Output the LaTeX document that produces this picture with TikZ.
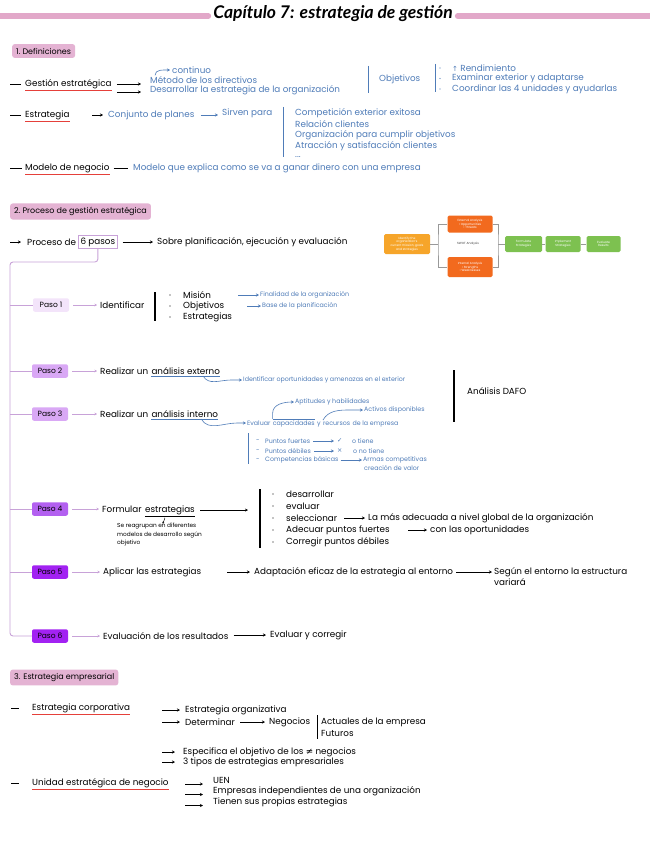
\documentclass[tikz,border=0pt]{standalone}
\usepackage{fontspec}
\setmainfont{Poppins}
\newfontfamily\titlefont{Lato}
\newfontfamily\symfont{DejaVu Sans}
\usetikzlibrary{arrows.meta,calc}
\newcommand\fsz[2]{\fontsize{#1}{#2}\selectfont}
\definecolor{tblue}{HTML}{4F7CB8}
\definecolor{hpink}{HTML}{E4B3D3}
\definecolor{barpink}{HTML}{E2A8C9}
\definecolor{treec}{HTML}{C8A2D8}
\definecolor{ured}{HTML}{E5403A}
\definecolor{pa}{HTML}{F3E4FA}
\definecolor{pb}{HTML}{D9A8F5}
\definecolor{pc}{HTML}{B360F0}
\definecolor{pd}{HTML}{A222F2}
\definecolor{oy}{HTML}{F6A52A}
\definecolor{orr}{HTML}{F26A1E}
\definecolor{grn}{HTML}{7DC150}
\begin{document}
\begin{tikzpicture}[x=1pt,y=-1pt,
  txt/.style={anchor=west,inner sep=0pt,font=\fsz{8.8}{10}},
  btxt/.style={txt,text=tblue},
  sbtxt/.style={anchor=west,inner sep=0pt,font=\fsz{6.3}{7.3},text=tblue},
  stxt/.style={anchor=west,inner sep=0pt,font=\fsz{5.8}{8.5},align=left},
  hdr/.style={anchor=west,fill=hpink,rounded corners=2.5pt,inner xsep=4pt,inner ysep=3.8pt,font=\fsz{8}{9}},
  arr/.style={-{Stealth[length=3pt,width=3pt]},line width=0.7pt},
  barr/.style={arr,draw=tblue,line width=0.6pt},
  parr/.style={-{Stealth[length=2.5pt,width=2.5pt]},draw=treec,line width=0.7pt},
  plain/.style={line width=0.7pt},
  bline/.style={draw=tblue,line width=0.8pt},
  kbar/.style={draw=black,line width=1.1pt},
  ul/.style={draw=ured,line width=0.8pt},
  bul/.style={draw=tblue,line width=0.8pt},
  tree/.style={draw=treec,line width=0.9pt},
  paso/.style={rounded corners=2pt,minimum width=36pt,minimum height=13.5pt,inner sep=0pt,font=\fsz{7.5}{8}},
  sbox/.style={rounded corners=1.5pt,text=white,font=\fsz{3}{3.6},align=center,inner sep=1pt},
  gl/.style={draw=black!40,line width=0.5pt}]
\useasboundingbox (0,0) rectangle (649,848);
\fill[white] (0,0) rectangle (649,848);

% ---------- title
\node[font=\titlefont\bfseries\itshape\fsz{17.5}{19},inner xsep=5pt,inner ysep=1pt] (title) at (333,14) {Capítulo 7: estrategia de gestión};
\coordinate (tbl) at (0,16);
\coordinate (tbr) at (652,16);
\draw[draw=barpink,line width=6pt,line cap=round] (tbl) -- (title.west |- tbl);
\draw[draw=barpink,line width=6pt,line cap=round] (title.east |- tbr) -- (tbr);

% ---------- section 1
\node[hdr] (h1) at (12,51) {1.\ Definiciones};

\coordinate (d1) at (10,84);
\node[txt] (ge) at (25,84) {Gestión estratégica};
\draw[plain] (d1) -- ([xshift=-4pt]ge.west);
\draw[ul] ([yshift=-1.5pt]ge.south west) -- ([yshift=-1.5pt]ge.south east);
\node[btxt] (met) at (150,80) {Método de los directivos};
\node[btxt] (des) at (150,90.5) {Desarrollar la estrategia de la organización};
\node[btxt] (cont) at (172,70) {continuo};
\draw[arr] ([xshift=5pt]ge.east) -- ([xshift=-9pt]met.west |- ge.east);
\draw[arr] ([xshift=5pt,yshift=-8pt]ge.east) -- ([xshift=-9pt,yshift=-8pt]met.west |- ge.east);
\draw[barr] ([xshift=5pt,yshift=1pt]met.north west) to[out=90,in=180] ([xshift=-2pt]cont.west);
\coordinate (v1t) at (368,66);
\coordinate (v1b) at (368,93);
\draw[bline] (v1t) -- (v1b);
\node[btxt] (obj) at (379,79) {Objetivos};
\coordinate (v2t) at (435,64);
\coordinate (v2b) at (435,92);
\draw[bline] (v2t) -- (v2b);
\node[btxt] (o1) at (452,68) {{\symfont\fsz{7}{8}↑}\ Rendimiento};
\node[btxt] (o2) at (452,78.5) {Examinar exterior y adaptarse};
\node[btxt] (o3) at (452,89) {Coordinar las 4 unidades y ayudarlas};
\foreach \o in {o1,o2,o3} \fill[tblue] ([xshift=-12pt]\o.west) circle (0.7pt);

\coordinate (d2) at (10,115);
\node[txt] (es) at (25,115) {Estrategia};
\draw[plain] (d2) -- ([xshift=-4pt]es.west);
\draw[ul] ([yshift=-1.5pt]es.south west) -- ([yshift=-1.5pt]es.south east);
\node[btxt] (cp) at (108,115) {Conjunto de planes};
\draw[arr] ([xshift=-16pt]cp.west) -- ([xshift=-5pt]cp.west);
\node[btxt] (sp) at (222,113) {Sirven para};
\draw[barr] ([xshift=6pt]cp.east |- cp.east) -- ([xshift=-4pt]sp.west |- cp.east);
\coordinate (v3t) at (283,107);
\coordinate (v3b) at (283,157);
\draw[bline] (v3t) -- (v3b);
\node[btxt] (c1) at (295,113) {Competición exterior exitosa};
\node[btxt] (c2) at (295,124) {Relación clientes};
\node[btxt] (c3) at (295,135) {Organización para cumplir objetivos};
\node[btxt] (c4) at (295,146) {Atracción y satisfacción clientes};
\node[btxt] (c5) at (295,157) {...};

\coordinate (d3) at (10,168);
\node[txt] (mn) at (25,168) {Modelo de negocio};
\draw[plain] (d3) -- ([xshift=-3pt]mn.west);
\draw[ul] ([yshift=-1.5pt]mn.south west) -- ([yshift=-1.5pt]mn.south east);
\node[btxt] (mq) at (133,168) {Modelo que explica como se va a ganar dinero con una empresa};
\draw[plain] ([xshift=4pt]mn.east) -- ([xshift=-5pt]mq.west);

% ---------- section 2
\node[hdr] (h2) at (10,211.5) {2.\ Proceso de gestión estratégica};
\coordinate (d4) at (10,242);
\node[txt] (pr) at (27,242) {Proceso de};
\draw[arr] (d4) -- ([xshift=-6pt]pr.west);
\node[txt,draw=treec,line width=0.7pt,inner xsep=2pt,inner ysep=2.2pt] (pasos) at ([xshift=2pt]pr.east) {6 pasos};
\node[txt] (sob) at (157,242) {Sobre planificación, ejecución y evaluación};
\draw[arr] ([xshift=5pt]pasos.east) -- ([xshift=-4pt]sob.west);

% SWOT mini diagram
\node[sbox,fill=oy,minimum width=46pt,minimum height=20pt] (idn) at (407,244) {Identify the\\organization's\\current mission, goals\\and strategies};
\node[sbox,fill=orr,minimum width=45pt,minimum height=17pt] (ext) at (470,224) {External Analysis\\• Opportunities\\• Threats};
\node[sbox,fill=orr,minimum width=45pt,minimum height=20pt] (int) at (470,267) {Internal Analysis\\• Strengths\\• Weaknesses};
\node[font=\fsz{3}{3.6},text=black!75,inner sep=0pt] (swot) at (468,244) {SWOT Analysis};
\node[sbox,fill=grn,minimum width=37pt,minimum height=16pt] (frm) at (523.5,244) {Formulate\\Strategies};
\node[sbox,fill=grn,minimum width=35pt,minimum height=16pt] (imp) at (563,244) {Implement\\Strategies};
\node[sbox,fill=grn,minimum width=34pt,minimum height=16pt] (evl) at (603.5,244) {Evaluate\\Results};
\coordinate (jl) at (438,244);
\coordinate (jr) at (498,244);
\draw[gl] (idn.east) -- (jl);
\draw[gl] (ext.west) -| (jl) |- (int.west);
\draw[gl] (ext.east) -| (jr) |- (int.east);
\draw[gl] (jr) -- (frm.west);
\draw[gl] (frm.east) -- (imp.west);
\draw[gl] (imp.east) -- (evl.west);

% tree + pasos
\node[paso,fill=pa] (p1) at (51,305) {Paso 1};
\node[paso,fill=pb] (p2) at (50,371) {Paso 2};
\node[paso,fill=pb] (p3) at (50,414) {Paso 3};
\node[paso,fill=pc] (p4) at (50,509) {Paso 4};
\node[paso,fill=pd] (p5) at (50,572) {Paso 5};
\node[paso,fill=pd] (p6) at (50,636) {Paso 6};
\coordinate (tc) at (10,262);
\draw[tree,rounded corners=3pt] (pasos.south) |- (tc) -- (p6.west -| tc) -- (p6.west);
\foreach \p in {p1,p2,p3,p4,p5} \draw[tree] (\p.west -| tc) -- (\p.west);

% paso 1
\node[txt] (idf) at (100,305) {Identificar};
\draw[parr] ([xshift=4pt]p1.east) -- ([xshift=-3pt]idf.west);
\coordinate (k1t) at (155,292);
\coordinate (k1b) at (155,321);
\draw[kbar] (k1t) -- (k1b);
\node[txt] (mis) at (183,295) {Misión};
\node[txt] (obs) at (183,306) {Objetivos};
\node[txt] (ests) at (183,317) {Estrategias};
\foreach \o in {mis,obs,ests} \fill[black] ([xshift=-13pt]\o.west) circle (0.7pt);
\node[sbtxt] (fin) at (260,295) {Finalidad de la organización};
\node[sbtxt] (bas) at (262,306) {Base de la planificación};
\draw[barr] ([xshift=-22pt]fin.west) -- ([xshift=-1pt]fin.west);
\draw[barr] ([xshift=-15pt]bas.west) -- ([xshift=-1pt]bas.west);

% paso 2
\node[txt] (r2a) at (100,371) {Realizar un};
\node[txt,anchor=base west] (r2b) at ([xshift=3pt]r2a.base east) {análisis externo};
\draw[parr] ([xshift=4pt]p2.east) -- ([xshift=-3pt]r2a.west);
\draw[bul] ([yshift=-1.5pt]r2b.south west) -- ([yshift=-1.5pt]r2b.south east);
\node[sbtxt] (iden) at (243,380) {Identificar oportunidades y amenazas en el exterior};
\draw[barr] ([xshift=-17pt,yshift=-1.5pt]r2b.south east) to[out=-60,in=180] ([xshift=-12pt]iden.west) -- ([xshift=-1pt]iden.west);

% paso 3
\node[txt] (r3a) at (100,414) {Realizar un};
\node[txt,anchor=base west] (r3b) at ([xshift=3pt]r3a.base east) {análisis interno};
\draw[parr] ([xshift=4pt]p3.east) -- ([xshift=-3pt]r3a.west);
\draw[bul] ([yshift=-1.5pt]r3b.south west) -- ([yshift=-1.5pt]r3b.south east);
\node[sbtxt] (ev1) at (247,423) {Evaluar};
\node[sbtxt,anchor=base west] (ev2) at ([xshift=2pt]ev1.base east) {capacidades};
\node[sbtxt,anchor=base west] (ev3) at ([xshift=2pt]ev2.base east) {y};
\node[sbtxt,anchor=base west] (ev4) at ([xshift=2pt]ev3.base east) {recursos};
\node[sbtxt,anchor=base west] (ev5) at ([xshift=2pt]ev4.base east) {de la empresa};
\draw[barr] ([xshift=-17pt,yshift=-1.5pt]r3b.south east) to[out=-60,in=180] ([xshift=-10pt]ev1.west) -- ([xshift=-1pt]ev1.west);
\node[sbtxt] (apt) at (295,402) {Aptitudes y habilidades};
\node[sbtxt] (act) at (364,410) {Activos disponibles};
\draw[bline,line width=0.6pt] ([yshift=1.5pt]ev2.north west) -- ([yshift=1.5pt]ev2.north east);
\draw[barr] ([yshift=1.5pt]ev2.north west) -- ([yshift=7pt]ev2.north west) to[out=90,in=180] ([xshift=-1pt]apt.west);
\draw[barr] ([yshift=1.5pt]ev4.north west) to[out=60,in=180] ([xshift=-14pt]act.west) -- ([xshift=-1pt]act.west);

\coordinate (v4t) at (248,433);
\coordinate (v4b) at (248,464);
\draw[bline] (v4t) -- (v4b);
\node[sbtxt] (pf) at (265,441) {Puntos fuertes};
\node[sbtxt] (pdb) at (265,451) {Puntos débiles};
\node[sbtxt] (cb) at (265,460) {Competencias básicas};
\foreach \o in {pf,pdb,cb} \node[sbtxt] at ([xshift=-9pt]\o.west) {-};
\node[sbtxt] (chk) at (337,441) {{\symfont ✓}};
\node[sbtxt] (tie) at (352,441) {o tiene};
\node[sbtxt] (crs) at (337,451) {{\symfont ×}};
\node[sbtxt] (ntie) at (353,451) {o no tiene};
\node[sbtxt] (arm) at (363,460) {Armas competitivas};
\node[sbtxt] (cre) at (364,468.5) {creación de valor};
\draw[barr] ([xshift=3pt]pf.east) -- ([xshift=-3pt]chk.west);
\draw[barr] ([xshift=3pt]pdb.east) -- ([xshift=-3pt]crs.west);
\draw[barr] ([xshift=2pt]cb.east) -- ([xshift=-1pt]arm.west);

\coordinate (k2t) at (454,370);
\coordinate (k2b) at (454,422);
\draw[kbar] (k2t) -- (k2b);
\node[txt] (dafo) at (467,391) {Análisis DAFO};

% paso 4
\node[txt] (fo1) at (102,509) {Formular};
\node[txt,anchor=base west] (fo2) at ([xshift=3pt]fo1.base east) {estrategias};
\draw[parr] ([xshift=4pt]p4.east) -- ([xshift=-3pt]fo1.west);
\draw[plain] ([yshift=-1.5pt]fo2.south west) -- ([yshift=-1.5pt]fo2.south east);
\node[stxt] (sere) at (117,535) {Se reagrupan en diferentes\\modelos de desarrollo según\\objetivo};
\draw[-{Stealth[length=2pt,width=2pt]},line width=0.5pt] ([xshift=-5pt,yshift=-3pt]fo2.south) to[out=-100,in=80] ([xshift=-7pt,yshift=-9pt]fo2.south);
\coordinate (k3t) at (260,489);
\coordinate (k3b) at (260,548);
\draw[kbar] (k3t) -- (k3b);
\draw[arr] ([xshift=5pt]fo2.east) -- ([xshift=-12pt]fo2.east -| k3t);
\node[txt] (q1) at (286,494) {desarrollar};
\node[txt] (q2) at (286,506) {evaluar};
\node[txt] (q3) at (286,518) {seleccionar};
\node[txt] (q4) at (286,530) {Adecuar puntos fuertes};
\node[txt] (q5) at (286,542) {Corregir puntos débiles};
\foreach \o in {q1,q2,q3,q4,q5} \fill[black] ([xshift=-13pt]\o.west) circle (0.7pt);
\node[txt] (lam) at (368,518) {La más adecuada a nivel global de la organización};
\node[txt] (cop) at (430,530) {con las oportunidades};
\draw[arr] ([xshift=-24pt]lam.west) -- ([xshift=-3pt]lam.west);
\draw[arr] ([xshift=-22pt]cop.west) -- ([xshift=-3pt]cop.west);

% paso 5
\node[txt] (apl) at (103,572) {Aplicar las estrategias};
\draw[parr] ([xshift=4pt]p5.east) -- ([xshift=-3pt]apl.west);
\node[txt] (ada) at (254,572) {Adaptación eficaz de la estrategia al entorno};
\draw[arr] ([xshift=-27pt]ada.west) -- ([xshift=-4pt]ada.west);
\node[txt,align=left,font=\fsz{8.8}{10.5}] (seg) at (494,576.5) {Según el entorno la estructura\\variará};
\draw[arr] ([xshift=3pt]ada.east) -- ([xshift=-2pt]seg.west |- ada.east);

% paso 6
\node[txt] (evr) at (103,636) {Evaluación de los resultados};
\draw[parr] ([xshift=4pt]p6.east) -- ([xshift=-3pt]evr.west);
\node[txt] (evc) at (270,635) {Evaluar y corregir};
\draw[arr] ([xshift=5pt]evr.east |- evc.west) -- ([xshift=-4pt]evc.west);

% ---------- section 3
\node[hdr] (h3) at (10,677.5) {3. Estrategia empresarial};
\coordinate (d5) at (11,708);
\node[txt] (ec) at (32,708) {Estrategia corporativa};
\draw[plain] (d5) -- ([xshift=-13pt]ec.west);
\draw[ul] ([yshift=-1.5pt]ec.south west) -- ([yshift=-1.5pt]ec.south east);
\node[txt] (eo) at (185,710) {Estrategia organizativa};
\node[txt] (det) at (185,722) {Determinar};
\node[txt] (neg) at (269,722) {Negocios};
\node[txt] (actu) at (321,722) {Actuales de la empresa};
\node[txt] (fut) at (321,733) {Futuros};
\node[txt] (espe) at (183,752) {Especifica el objetivo de los {\symfont ≠} negocios};
\node[txt] (tip) at (183,762) {3 tipos de estrategias empresariales};
\draw[arr] ([xshift=-23pt]eo.west) -- ([xshift=-5pt]eo.west);
\draw[arr] ([xshift=-23pt]det.west) -- ([xshift=-5pt]det.west);
\draw[arr] ([xshift=5pt]det.east) -- ([xshift=-4pt]neg.west);
\draw[arr] ([xshift=-21pt]espe.west) -- ([xshift=-8pt]espe.west);
\draw[arr] ([xshift=-21pt]tip.west) -- ([xshift=-8pt]tip.west);
\coordinate (k4t) at (317.5,715);
\coordinate (k4b) at (317.5,739);
\draw[kbar,line width=0.8pt] (k4t) -- (k4b);

\coordinate (d6) at (11,783);
\node[txt] (ue) at (32,783) {Unidad estratégica de negocio};
\draw[plain] (d6) -- ([xshift=-13pt]ue.west);
\draw[ul] ([yshift=-1.5pt]ue.south west) -- ([yshift=-1.5pt]ue.south east);
\node[txt] (uen) at (213,780) {UEN};
\node[txt] (emp) at (213,791.5) {Empresas independientes de una organización};
\node[txt] (tsp) at (213,802.5) {Tienen sus propias estrategias};
\draw[arr] ([xshift=-28pt,yshift=-4pt]uen.west) -- ([xshift=-10pt,yshift=-4pt]uen.west);
\draw[arr] ([xshift=-28pt,yshift=-3pt]emp.west) -- ([xshift=-10pt,yshift=-3pt]emp.west);
\draw[arr] ([xshift=-28pt,yshift=-3pt]tsp.west) -- ([xshift=-10pt,yshift=-3pt]tsp.west);
\end{tikzpicture}
\end{document}
